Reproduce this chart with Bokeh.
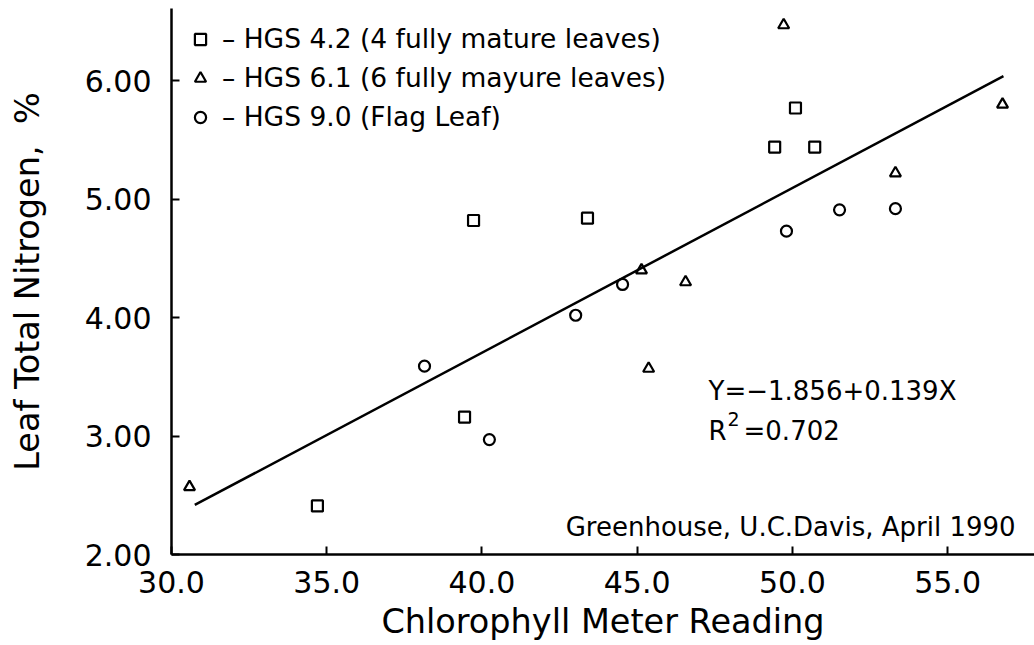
from bokeh.plotting import figure
from bokeh.models import (Range1d, FixedTicker, PrintfTickFormatter, Legend, LegendItem, Label)
from bokeh.embed import file_html
from bokeh.resources import INLINE

FONT = "DejaVu Sans"

# --- data ---
sq_x = [34.70, 39.44, 39.73, 43.40, 49.43, 50.10, 50.72]
sq_y = [2.41, 3.16, 4.82, 4.84, 5.44, 5.77, 5.44]

tri_x = [30.58, 45.14, 45.37, 46.56, 49.72, 53.32, 56.77]
tri_y = [2.57, 4.40, 3.57, 4.30, 6.47, 5.22, 5.80]

cir_x = [38.15, 40.24, 43.02, 44.53, 49.81, 51.52, 53.32]
cir_y = [3.59, 2.97, 4.02, 4.28, 4.73, 4.91, 4.92]

intercept = -1.856
slope = 0.139
r2 = 0.702
fit_x = [30.75, 56.8]
fit_y = [intercept + slope * v for v in fit_x]

x_ticks = [30, 35, 40, 45, 50, 55]
y_ticks = [2, 3, 4, 5, 6]

series_labels = [
    "\u2013 HGS 4.2 (4 fully mature leaves)",
    "\u2013 HGS 6.1 (6 fully mayure leaves)",
    "\u2013 HGS 9.0 (Flag Leaf)",
]

p = figure(width=1034, height=645, output_backend="svg", toolbar_location=None,
           x_range=Range1d(30, 57.8), y_range=Range1d(2, 6.61),
           min_border_left=171, min_border_right=0, min_border_top=8, min_border_bottom=91)
p.outline_line_color = None
p.grid.visible = False
p.background_fill_color = "white"

for ax, ticks, fmt in ((p.xaxis[0], x_ticks, "%.1f"), (p.yaxis[0], y_ticks, "%.2f")):
    ax.ticker = FixedTicker(ticks=ticks)
    ax.formatter = PrintfTickFormatter(format=fmt)
    ax.axis_line_width = 2.5
    ax.axis_line_color = "black"
    ax.major_tick_line_width = 2
    ax.major_tick_line_color = "black"
    ax.major_tick_in = 8
    ax.major_tick_out = 0
    ax.minor_tick_line_color = None
    ax.major_label_text_font = FONT
    ax.major_label_text_font_size = "30px"
    ax.major_label_text_color = "black"
    ax.axis_label_text_font = FONT
    ax.axis_label_text_font_size = "33.5px"
    ax.axis_label_text_font_style = "normal"
    ax.axis_label_text_color = "black"

p.xaxis.axis_label = "Chlorophyll Meter Reading"
p.yaxis.axis_label = "Leaf Total Nitrogen,\u00a0\u00a0%"
p.xaxis.major_label_standoff = 16
p.xaxis.axis_label_standoff = 6
p.xaxis.axis_label_text_line_height = 1.0
p.yaxis.major_label_standoff = 20
p.yaxis.axis_label_standoff = 35

p.line(fit_x, fit_y, line_color="black", line_width=2.5)

r_sq = p.scatter(sq_x, sq_y, marker="square", size=11, fill_color=None,
                 line_color="black", line_width=2.2)
r_tri = p.scatter(tri_x, tri_y, marker="triangle", size=11, fill_color=None,
                  line_color="black", line_width=2.2)
r_cir = p.scatter(cir_x, cir_y, marker="circle", size=11, fill_color=None,
                  line_color="black", line_width=2.2)

legend = Legend(items=[
    LegendItem(label=series_labels[0], renderers=[r_sq]),
    LegendItem(label=series_labels[1], renderers=[r_tri]),
    LegendItem(label=series_labels[2], renderers=[r_cir]),
], location="top_left")
legend.margin = 15
legend.padding = 0
legend.glyph_width = 28
legend.glyph_height = 30
legend.label_height = 30
legend.spacing = 8
legend.label_standoff = 8
legend.label_text_font = FONT
legend.label_text_font_size = "26.5px"
legend.label_text_color = "black"
legend.border_line_color = None
legend.background_fill_alpha = 0
p.add_layout(legend)

# equation and R^2 annotation
eq_x = 47.30
p.add_layout(Label(x=eq_x, y=3.384, text=f"Y=\u2212{abs(intercept):.3f}+{slope:.3f}X",
                   text_font=FONT, text_font_size="26px", text_color="black",
                   text_baseline="alphabetic"))
p.add_layout(Label(x=eq_x, y=3.046, text="R",
                   text_font=FONT, text_font_size="26px", text_color="black",
                   text_baseline="alphabetic"))
p.add_layout(Label(x=eq_x, y=3.046, x_offset=19, y_offset=12, text="2",
                   text_font=FONT, text_font_size="19px", text_color="black",
                   text_baseline="alphabetic"))
p.add_layout(Label(x=eq_x, y=3.046, x_offset=35, text=f"={r2:.3f}",
                   text_font=FONT, text_font_size="26px", text_color="black",
                   text_baseline="alphabetic"))

p.add_layout(Label(x=57.19, y=2.228, text="Greenhouse, U.C.Davis, April 1990",
                   text_font=FONT, text_font_size="26px", text_color="black",
                   text_align="right", text_baseline="alphabetic"))

open("out.html", "w").write(file_html(p, INLINE))
